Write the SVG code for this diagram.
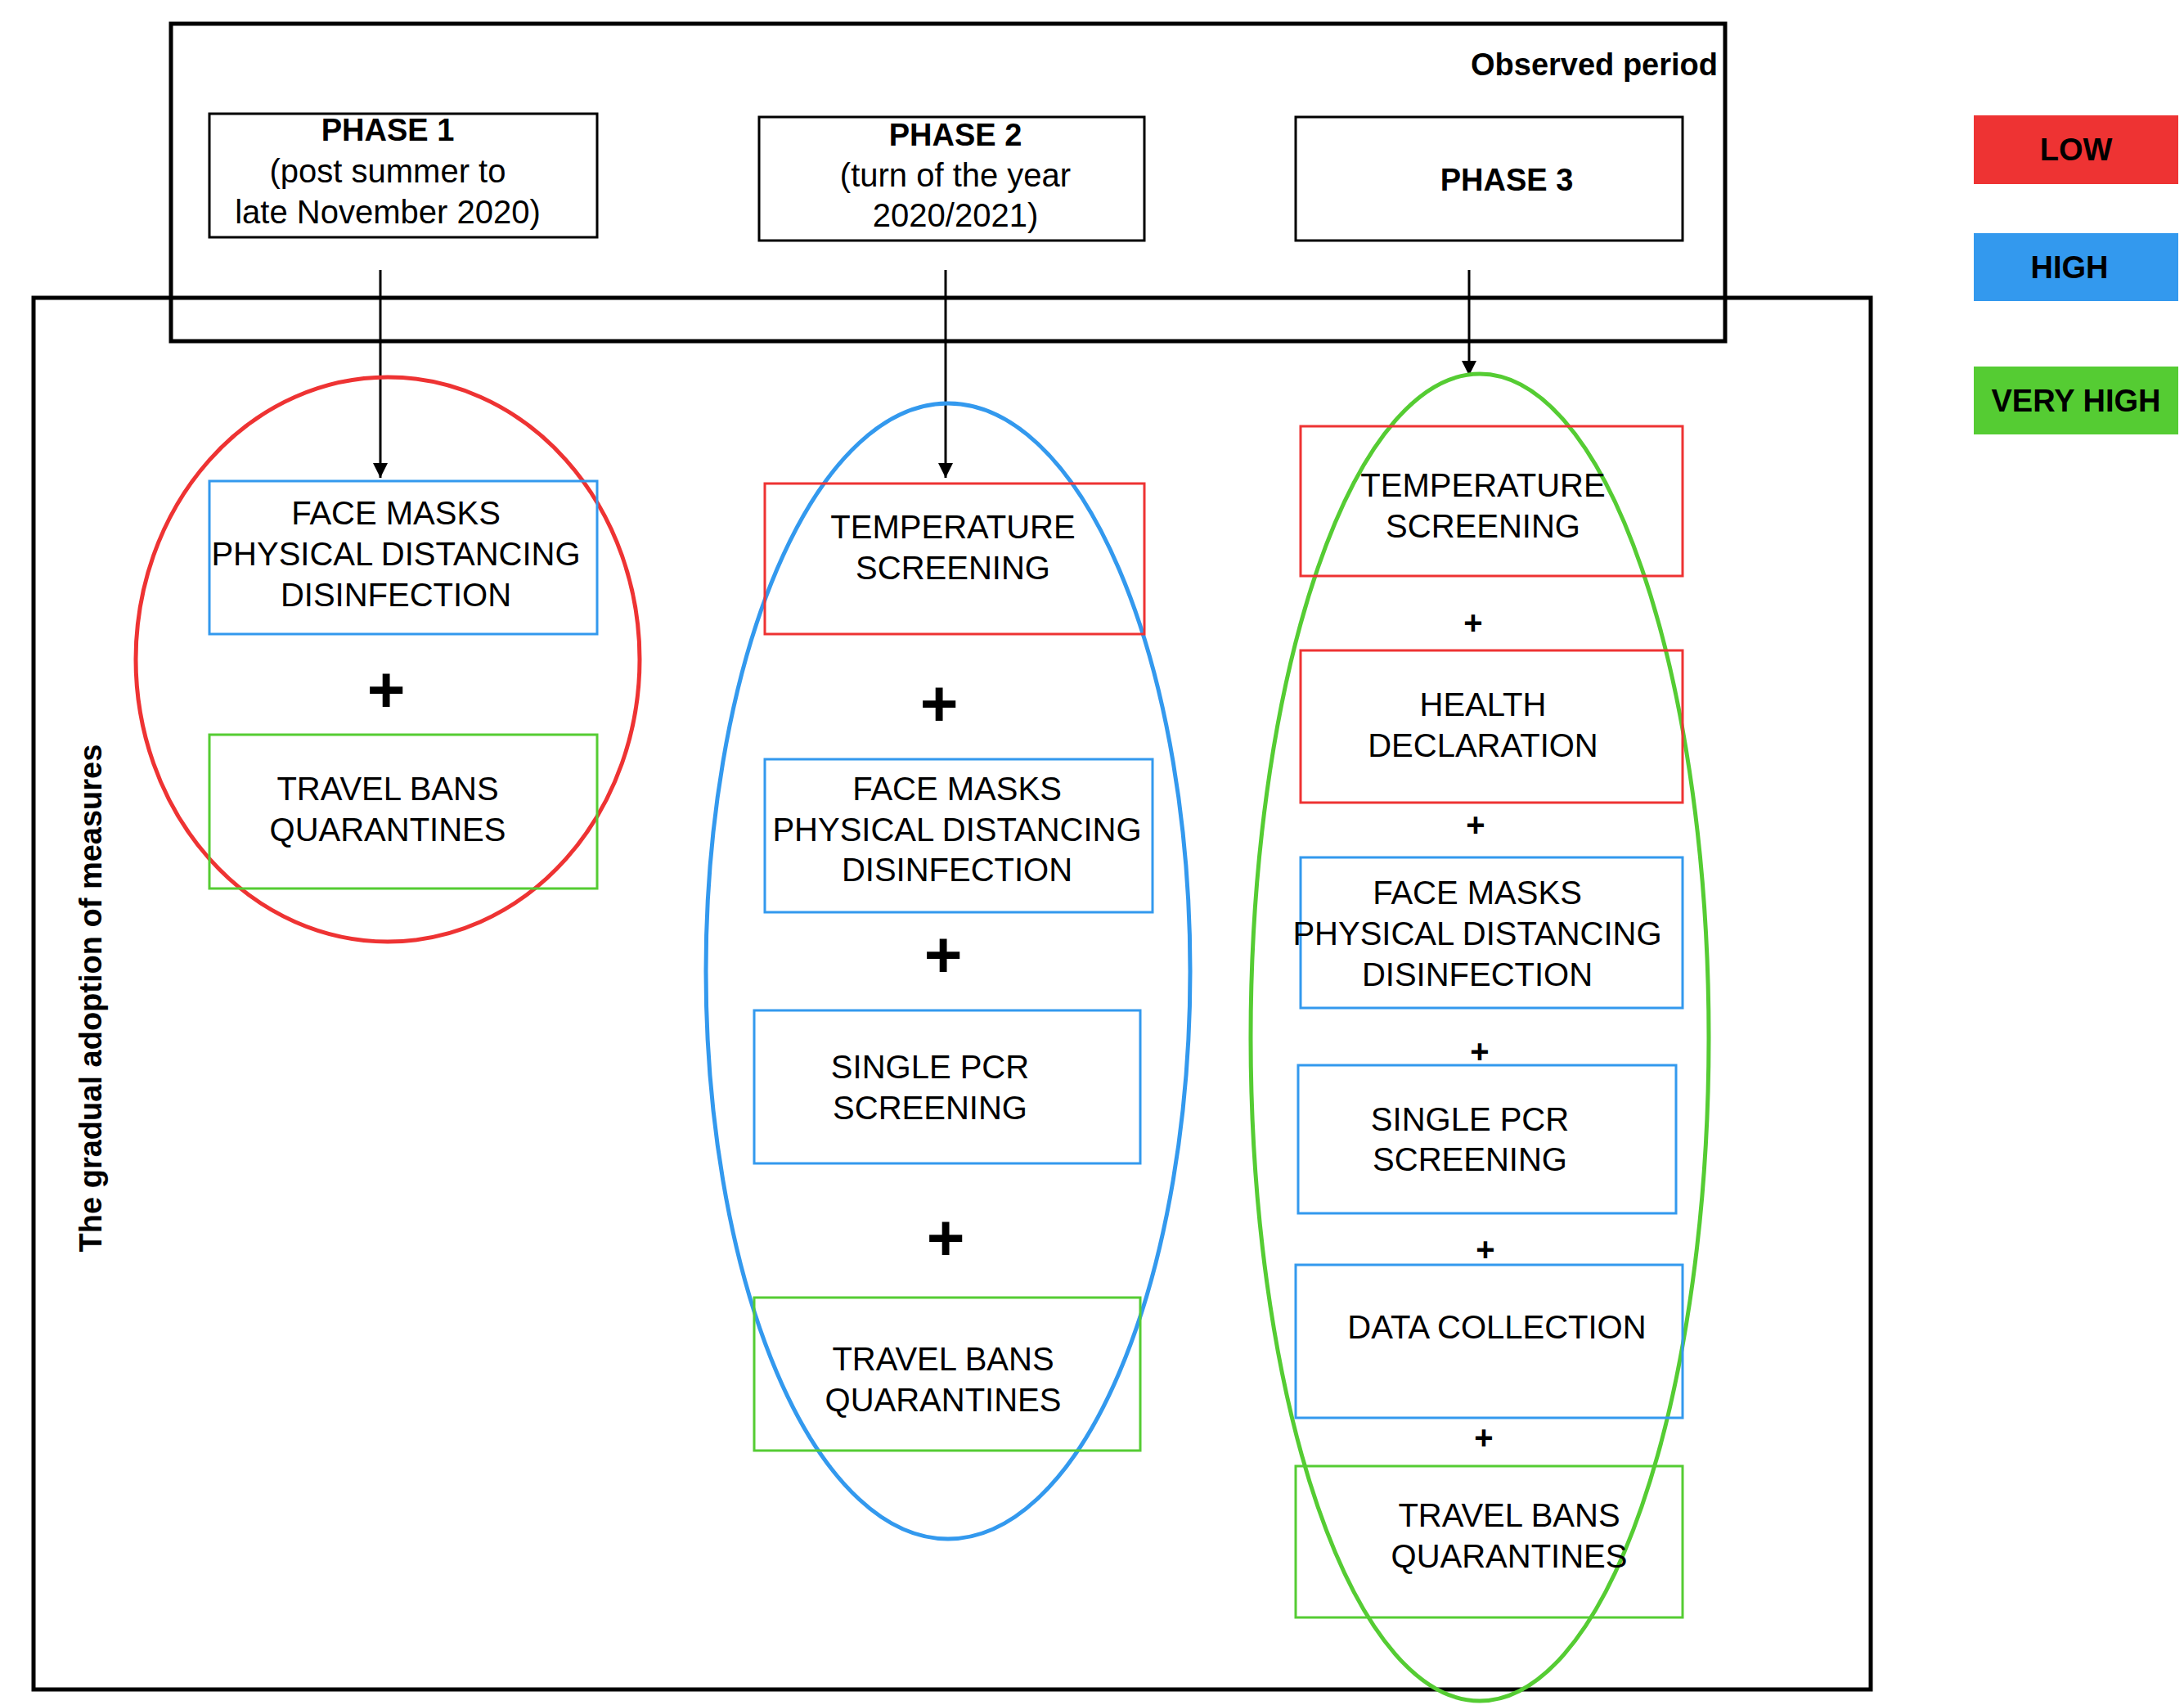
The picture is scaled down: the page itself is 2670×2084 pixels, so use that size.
<svg xmlns="http://www.w3.org/2000/svg" width="2670" height="2084" viewBox="0 0 2670 2084">
<style>
text{font-family:"Liberation Sans",Arial,sans-serif;fill:#000;text-anchor:middle;dominant-baseline:central}
.t{font-size:40px}
.b{font-weight:bold;font-size:38px}
.pb{font-weight:bold;font-size:80px}
.ps{font-weight:bold;font-size:40px}
.frame{fill:none;stroke:#000;stroke-width:5}
.ph{fill:#fff;stroke:#000;stroke-width:3}
.r{fill:none;stroke:#EE3333;stroke-width:3}
.bl{fill:none;stroke:#3399EE;stroke-width:3}
.g{fill:none;stroke:#55CC33;stroke-width:3}
.arr{stroke:#000;stroke-width:3;fill:none;marker-end:url(#ah)}
</style>
<defs><marker id="ah" viewBox="0 0 10 10" refX="10" refY="5" markerWidth="6" markerHeight="6" orient="auto"><path d="M0,0L10,5L0,10z" fill="#000"/></marker></defs>
<rect width="2670" height="2084" fill="#fff"/>
<g id="frames">
<rect class="frame" x="41" y="364" width="2246" height="1701"/>
<rect class="frame" x="209" y="29" width="1900" height="388"/>
<text class="b" x="2100" y="79" style="text-anchor:end">Observed period</text>
<text class="b" transform="translate(111,1220) rotate(-90)">The gradual adoption of measures</text>
</g>
<g id="legend">
<rect x="2413" y="141" width="250" height="84" fill="#EE3333"/><text class="b" x="2538" y="183">LOW</text>
<rect x="2413" y="285" width="250" height="83" fill="#3399EE"/><text class="b" x="2530" y="327">HIGH</text>
<rect x="2413" y="448" width="250" height="83" fill="#55CC33"/><text class="b" x="2538" y="490">VERY HIGH</text>
</g>
<g id="phase1"><rect class="ph" x="256" y="139" width="474" height="151"/>
<text class="b" x="474" y="159">PHASE 1</text><text class="t" x="474" y="209">(post summer to</text><text class="t" x="474" y="259">late November 2020)</text></g>
<g id="phase2"><rect class="ph" x="928" y="143" width="471" height="151"/>
<text class="b" x="1168" y="165">PHASE 2</text><text class="t" x="1168" y="214">(turn of the year</text><text class="t" x="1168" y="263">2020/2021)</text></g>
<g id="phase3"><rect class="ph" x="1584" y="143" width="473" height="151"/>
<text class="b" x="1842" y="220">PHASE 3</text></g>
<g id="connectors">
<line class="arr" x1="465" y1="330" x2="465" y2="584"/>
<line class="arr" x1="1156" y1="330" x2="1156" y2="584"/>
<line class="arr" x1="1796" y1="330" x2="1796" y2="459"/>
</g>
<g id="col1">
<ellipse cx="474" cy="806" rx="308" ry="345" fill="none" stroke="#EE3333" stroke-width="5"/>
<rect class="bl" x="256" y="588" width="474" height="187"/>
<text class="t" x="484" y="627">FACE MASKS</text><text class="t" x="484" y="677">PHYSICAL DISTANCING</text><text class="t" x="484" y="727">DISINFECTION</text>
<text class="pb" x="472" y="842">+</text>
<rect class="g" x="256" y="898" width="474" height="188"/>
<text class="t" x="474" y="964">TRAVEL BANS</text><text class="t" x="474" y="1014">QUARANTINES</text>
</g>
<g id="col2">
<ellipse cx="1159" cy="1187" rx="296" ry="694" fill="none" stroke="#3399EE" stroke-width="5"/>
<rect class="r" x="935" y="591" width="464" height="184"/>
<text class="t" x="1165" y="644">TEMPERATURE</text><text class="t" x="1165" y="694">SCREENING</text>
<text class="pb" x="1148" y="859">+</text>
<rect class="bl" x="935" y="928" width="474" height="187"/>
<text class="t" x="1170" y="964">FACE MASKS</text><text class="t" x="1170" y="1014">PHYSICAL DISTANCING</text><text class="t" x="1170" y="1063">DISINFECTION</text>
<text class="pb" x="1153" y="1166">+</text>
<rect class="bl" x="922" y="1235" width="472" height="187"/>
<text class="t" x="1137" y="1304">SINGLE PCR</text><text class="t" x="1137" y="1354">SCREENING</text>
<text class="pb" x="1156" y="1512">+</text>
<rect class="g" x="922" y="1586" width="472" height="187"/>
<text class="t" x="1153" y="1661">TRAVEL BANS</text><text class="t" x="1153" y="1711">QUARANTINES</text>
</g>
<g id="col3">
<ellipse cx="1809" cy="1268" rx="280" ry="811" fill="none" stroke="#55CC33" stroke-width="5"/>
<rect class="r" x="1590" y="521" width="467" height="183"/>
<text class="t" x="1813" y="593">TEMPERATURE</text><text class="t" x="1813" y="643">SCREENING</text>
<text class="ps" x="1801" y="761">+</text>
<rect class="r" x="1590" y="795" width="467" height="186"/>
<text class="t" x="1813" y="861">HEALTH</text><text class="t" x="1813" y="911">DECLARATION</text>
<text class="ps" x="1804" y="1008">+</text>
<rect class="bl" x="1590" y="1048" width="467" height="184"/>
<text class="t" x="1806" y="1091">FACE MASKS</text><text class="t" x="1806" y="1141">PHYSICAL DISTANCING</text><text class="t" x="1806" y="1191">DISINFECTION</text>
<text class="ps" x="1809" y="1285">+</text>
<rect class="bl" x="1587" y="1302" width="462" height="181"/>
<text class="t" x="1797" y="1368">SINGLE PCR</text><text class="t" x="1797" y="1417">SCREENING</text>
<text class="ps" x="1816" y="1527">+</text>
<rect class="bl" x="1584" y="1546" width="473" height="187"/>
<text class="t" x="1830" y="1622">DATA COLLECTION</text>
<text class="ps" x="1814" y="1757">+</text>
<rect class="g" x="1584" y="1792" width="473" height="185"/>
<text class="t" x="1845" y="1852">TRAVEL BANS</text><text class="t" x="1845" y="1902">QUARANTINES</text>
</g>
</svg>
